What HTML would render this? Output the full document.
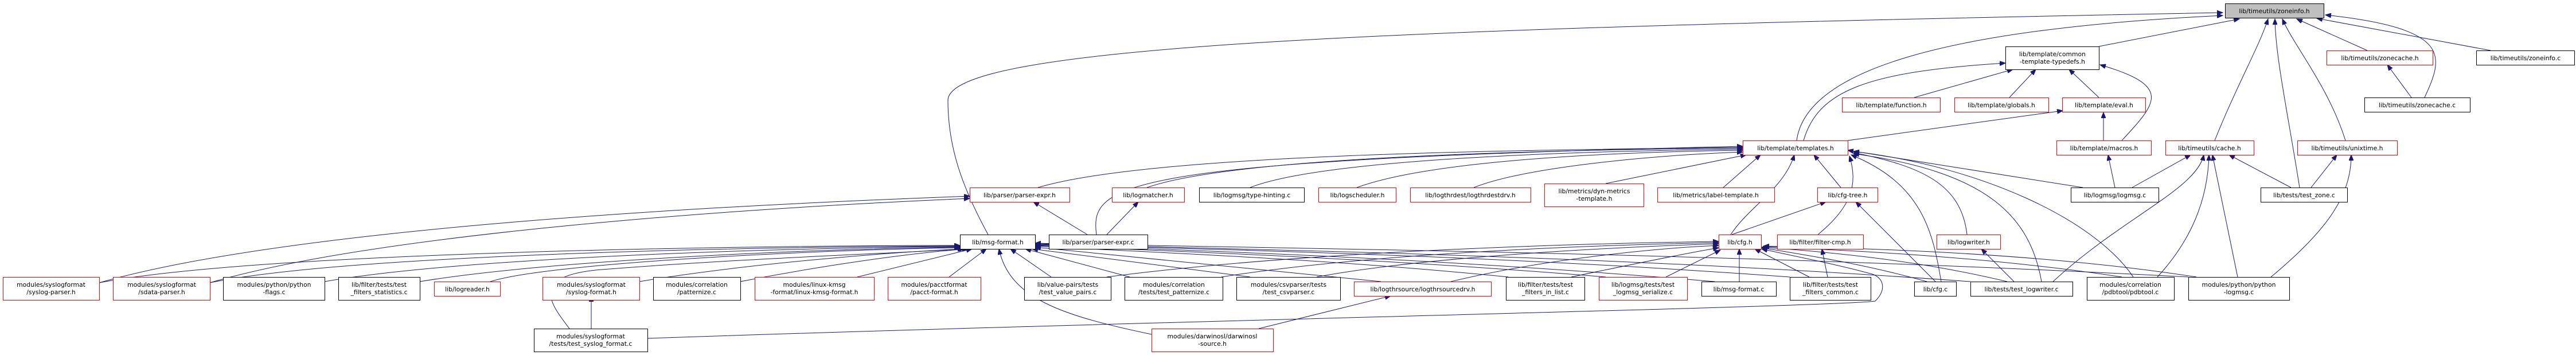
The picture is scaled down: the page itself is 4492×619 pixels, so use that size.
<!DOCTYPE html>
<html><head><meta charset="utf-8"><style>
html,body{margin:0;padding:0;background:#fff;}
svg{display:block;}
text{font-family:"DejaVu Sans","Liberation Sans",sans-serif;font-size:10.8px;fill:#000;}
</style></head><body>
<svg xmlns="http://www.w3.org/2000/svg" width="4492" height="619" viewBox="0 0 4492 619">
<defs>
<marker id="a" markerWidth="11" markerHeight="8" refX="10" refY="4" orient="auto" markerUnits="userSpaceOnUse">
<path d="M0,0 L10,4 L0,8 Z" fill="#191970" stroke="#191970"/>
</marker>
</defs>
<g fill="none" stroke="#191970" stroke-width="1" marker-end="url(#a)">
<!-- to zoneinfo.h -->
<path d="M1723,409 C1680,330 1653,260 1653,175 C1653,80 2400,50 3876,22"/>
<path d="M3133,245 C3150,120 3400,50 3876,27"/>
<path d="M3660,81 L3905,33"/>
<path d="M3862,245 C3900,150 3940,80 3955,33"/>
<path d="M4010,327 C3990,200 3968,100 3967,33"/>
<path d="M4090,245 C4060,150 4000,80 3980,33"/>
<path d="M4128,88 L4005,33"/>
<path d="M4343,88 L4040,32"/>
<path d="M4228,170 C4260,100 4280,50 4055,26"/>
<!-- to common-template-typedefs -->
<path d="M3145,245 C3170,160 3250,125 3497,110"/>
<path d="M3338,170 L3510,121"/>
<path d="M3504,170 L3550,121"/>
<path d="M3660,170 L3608,121"/>
<path d="M3700,245 C3760,180 3790,150 3662,113"/>
<!-- to eval.h -->
<path d="M3222,245 L3597,193"/>
<path d="M3668,245 L3668,196"/>
<!-- to templates.h -->
<path d="M1810,327 C2000,270 2600,262 3039,257"/>
<path d="M2000,327 C2150,275 2650,262 3039,258"/>
<path d="M2180,327 C2300,280 2700,264 3039,260"/>
<path d="M2366,327 C2480,285 2750,266 3039,262"/>
<path d="M2570,327 C2650,295 2850,272 3039,265"/>
<path d="M2800,320 L3045,270"/>
<path d="M3005,327 L3070,270"/>
<path d="M1912,409 C1900,320 1950,280 3039,255"/>
<path d="M3018,409 C3050,360 3110,330 3129,270"/>
<path d="M3210,327 L3163,270"/>
<path d="M3170,409 C3230,360 3240,320 3225,272"/>
<path d="M3385,491 C3370,400 3350,320 3228,270"/>
<path d="M3560,491 C3540,380 3470,300 3232,268"/>
<path d="M3430,409 C3420,320 3350,290 3232,266"/>
<path d="M3720,483 C3650,380 3450,290 3232,264"/>
<path d="M3632,327 L3222,262"/>
<!-- to cache.h / unixtime.h / macros / zonecache -->
<path d="M3718,327 L3820,270"/>
<path d="M3995,327 L3887,270"/>
<path d="M3580,491 C3700,380 3830,330 3843,270"/>
<path d="M3762,483 C3820,420 3850,350 3852,270"/>
<path d="M3902,483 L3858,270"/>
<path d="M4030,327 L4075,270"/>
<path d="M3960,483 C4060,400 4100,340 4100,270"/>
<path d="M3688,327 L3676,270"/>
<path d="M4205,170 L4163,113"/>
<!-- cfg-tree, filter-cmp, logwriter -->
<path d="M3020,409 L3184,352"/>
<path d="M3375,491 L3236,352"/>
<path d="M3187,483 L3177,434"/>
<path d="M3512,491 L3455,434"/>
<!-- to cfg.h -->
<path d="M3033,491 L3033,434"/>
<path d="M3155,483 L3060,434"/>
<path d="M3360,491 C3250,460 3150,445 3072,432"/>
<path d="M3500,491 C3350,455 3200,440 3072,431"/>
<path d="M3700,483 C3450,445 3200,436 3075,430"/>
<path d="M3830,483 C3550,440 3250,433 3075,429"/>
<path d="M2905,483 L3000,436"/>
<path d="M2740,483 C2850,460 2950,440 2997,432"/>
<path d="M2530,491 C2700,450 2900,432 2997,428"/>
<path d="M2296,483 C2500,445 2850,430 2997,425"/>
<path d="M2130,483 C2400,440 2800,427 2997,423"/>
<path d="M1930,483 C2300,435 2800,424 2997,421"/>
<path d="M1129,590 C2000,560 3200,535 3270,525 C3290,505 3285,485 3265,478 C3200,460 3120,445 3072,434"/>
<!-- to msg-format.h from left -->
<path d="M173,493 C450,440 1300,428 1674,428"/>
<path d="M366,493 C600,445 1300,430 1674,429"/>
<path d="M566,491 C800,450 1350,432 1674,430"/>
<path d="M732,491 C950,455 1400,434 1674,431"/>
<path d="M855,491 C950,460 1400,436 1674,432"/>
<path d="M1115,491 C1300,460 1550,440 1680,434"/>
<path d="M1291,491 C1450,460 1600,440 1688,434"/>
<path d="M1495,483 L1695,434"/>
<path d="M1655,483 L1720,434"/>
<path d="M993,573 C960,530 920,480 1050,470 C1300,450 1600,440 1682,434"/>
<!-- to msg-format.h from right -->
<path d="M1833,483 L1762,434"/>
<path d="M1970,483 L1788,434"/>
<path d="M2180,483 L1800,434"/>
<path d="M2408,491 L1805,431"/>
<path d="M2630,483 C2300,450 2000,440 1805,429"/>
<path d="M2800,483 C2400,450 2050,438 1805,428"/>
<path d="M2990,491 C2500,450 2100,437 1805,427"/>
<path d="M3121,483 C2600,445 2150,436 1805,426"/>
<path d="M3436,491 C2800,445 2200,436 1805,425"/>
<path d="M3816,483 C3000,440 2250,434 1805,424"/>
<path d="M2008,583 C1850,550 1760,520 1742,434"/>
<path d="M2195,573 L2425,516"/>
<!-- parser-expr / logmatcher / syslog-format -->
<path d="M173,493 C500,400 1200,360 1691,342"/>
<path d="M366,493 C650,410 1250,365 1691,346"/>
<path d="M1896,409 L1802,352"/>
<path d="M1930,409 L1985,352"/>
<path d="M1031,573 L1031,516"/>
</g>
<g stroke-width="1">
<rect x="3880.5" y="6.5" width="172" height="25" fill="#bfbfbf" stroke="#000"/>
<text x="3966" y="23" text-anchor="middle">lib/timeutils/zoneinfo.h</text>

<rect x="3497.5" y="81.5" width="163" height="40" fill="#fff" stroke="#000"/>
<text x="3579" y="98" text-anchor="middle">lib/template/common</text>
<text x="3579" y="111" text-anchor="middle">-template-typedefs.h</text>
<rect x="4057.5" y="88.5" width="185" height="25" fill="#fff" stroke="#f00"/>
<text x="4150" y="105" text-anchor="middle">lib/timeutils/zonecache.h</text>
<rect x="4318.5" y="88.5" width="171" height="25" fill="#fff" stroke="#000"/>
<text x="4404" y="105" text-anchor="middle">lib/timeutils/zoneinfo.c</text>

<rect x="3212.5" y="170.5" width="171" height="25" fill="#fff" stroke="#f00"/>
<text x="3298" y="187" text-anchor="middle">lib/template/function.h</text>
<rect x="3408.5" y="170.5" width="164" height="25" fill="#fff" stroke="#f00"/>
<text x="3490" y="187" text-anchor="middle">lib/template/globals.h</text>
<rect x="3596.5" y="170.5" width="145" height="25" fill="#fff" stroke="#f00"/>
<text x="3669" y="187" text-anchor="middle">lib/template/eval.h</text>
<rect x="4123.5" y="170.5" width="184" height="25" fill="#fff" stroke="#000"/>
<text x="4215" y="187" text-anchor="middle">lib/timeutils/zonecache.c</text>

<rect x="3039.5" y="245.5" width="183" height="25" fill="#fff" stroke="#f00"/>
<text x="3131" y="262" text-anchor="middle">lib/template/templates.h</text>
<rect x="3586.5" y="245.5" width="165" height="25" fill="#fff" stroke="#f00"/>
<text x="3669" y="262" text-anchor="middle">lib/template/macros.h</text>
<rect x="3776.5" y="245.5" width="154" height="25" fill="#fff" stroke="#f00"/>
<text x="3853" y="262" text-anchor="middle">lib/timeutils/cache.h</text>
<rect x="4006.5" y="245.5" width="174" height="25" fill="#fff" stroke="#f00"/>
<text x="4093" y="262" text-anchor="middle">lib/timeutils/unixtime.h</text>

<rect x="1691.5" y="327.5" width="174" height="25" fill="#fff" stroke="#f00"/>
<text x="1778" y="344" text-anchor="middle">lib/parser/parser-expr.h</text>
<rect x="1939.5" y="327.5" width="126" height="25" fill="#fff" stroke="#f00"/>
<text x="2002" y="344" text-anchor="middle">lib/logmatcher.h</text>
<rect x="2091.5" y="327.5" width="183" height="25" fill="#fff" stroke="#000"/>
<text x="2183" y="344" text-anchor="middle">lib/logmsg/type-hinting.c</text>
<rect x="2299.5" y="327.5" width="135" height="25" fill="#fff" stroke="#f00"/>
<text x="2367" y="344" text-anchor="middle">lib/logscheduler.h</text>
<rect x="2459.5" y="327.5" width="210" height="25" fill="#fff" stroke="#f00"/>
<text x="2564" y="344" text-anchor="middle">lib/logthrdest/logthrdestdrv.h</text>
<rect x="2693.5" y="320.5" width="173" height="40" fill="#fff" stroke="#f00"/>
<text x="2780" y="337" text-anchor="middle">lib/metrics/dyn-metrics</text>
<text x="2780" y="350" text-anchor="middle">-template.h</text>
<rect x="2890.5" y="327.5" width="204" height="25" fill="#fff" stroke="#f00"/>
<text x="2992" y="344" text-anchor="middle">lib/metrics/label-template.h</text>
<rect x="3169.5" y="327.5" width="105" height="25" fill="#fff" stroke="#f00"/>
<text x="3222" y="344" text-anchor="middle">lib/cfg-tree.h</text>
<rect x="3611.5" y="327.5" width="153" height="25" fill="#fff" stroke="#000"/>
<text x="3688" y="344" text-anchor="middle">lib/logmsg/logmsg.c</text>
<rect x="3942.5" y="327.5" width="151" height="25" fill="#fff" stroke="#000"/>
<text x="4018" y="344" text-anchor="middle">lib/tests/test_zone.c</text>

<rect x="1674.5" y="409.5" width="131" height="25" fill="#fff" stroke="#000"/>
<text x="1740" y="426" text-anchor="middle">lib/msg-format.h</text>
<rect x="1829.5" y="409.5" width="172" height="25" fill="#fff" stroke="#000"/>
<text x="1915" y="426" text-anchor="middle">lib/parser/parser-expr.c</text>
<rect x="2997.5" y="409.5" width="74" height="25" fill="#fff" stroke="#f00"/>
<text x="3034" y="426" text-anchor="middle">lib/cfg.h</text>
<rect x="3099.5" y="409.5" width="150" height="25" fill="#fff" stroke="#f00"/>
<text x="3174" y="426" text-anchor="middle">lib/filter/filter-cmp.h</text>
<rect x="3377.5" y="409.5" width="111" height="25" fill="#fff" stroke="#f00"/>
<text x="3433" y="426" text-anchor="middle">lib/logwriter.h</text>

<rect x="5.5" y="483.5" width="168" height="40" fill="#fff" stroke="#f00"/>
<text x="89" y="500" text-anchor="middle">modules/syslogformat</text>
<text x="89" y="513" text-anchor="middle">/syslog-parser.h</text>
<rect x="197.5" y="483.5" width="169" height="40" fill="#fff" stroke="#f00"/>
<text x="282" y="500" text-anchor="middle">modules/syslogformat</text>
<text x="282" y="513" text-anchor="middle">/sdata-parser.h</text>
<rect x="389.5" y="483.5" width="177" height="40" fill="#fff" stroke="#000"/>
<text x="478" y="500" text-anchor="middle">modules/python/python</text>
<text x="478" y="513" text-anchor="middle">-flags.c</text>
<rect x="590.5" y="483.5" width="142" height="40" fill="#fff" stroke="#000"/>
<text x="661" y="500" text-anchor="middle">lib/filter/tests/test</text>
<text x="661" y="513" text-anchor="middle">_filters_statistics.c</text>
<rect x="757.5" y="491.5" width="115" height="25" fill="#fff" stroke="#f00"/>
<text x="815" y="508" text-anchor="middle">lib/logreader.h</text>
<rect x="946.5" y="483.5" width="169" height="40" fill="#fff" stroke="#f00"/>
<text x="1031" y="500" text-anchor="middle">modules/syslogformat</text>
<text x="1031" y="513" text-anchor="middle">/syslog-format.h</text>
<rect x="1139.5" y="483.5" width="152" height="40" fill="#fff" stroke="#000"/>
<text x="1215" y="500" text-anchor="middle">modules/correlation</text>
<text x="1215" y="513" text-anchor="middle">/patternize.c</text>
<rect x="1316.5" y="483.5" width="208" height="40" fill="#fff" stroke="#f00"/>
<text x="1420" y="500" text-anchor="middle">modules/linux-kmsg</text>
<text x="1420" y="513" text-anchor="middle">-format/linux-kmsg-format.h</text>
<rect x="1548.5" y="483.5" width="162" height="40" fill="#fff" stroke="#f00"/>
<text x="1629" y="500" text-anchor="middle">modules/pacctformat</text>
<text x="1629" y="513" text-anchor="middle">/pacct-format.h</text>
<rect x="1786.5" y="483.5" width="151" height="40" fill="#fff" stroke="#000"/>
<text x="1862" y="500" text-anchor="middle">lib/value-pairs/tests</text>
<text x="1862" y="513" text-anchor="middle">/test_value_pairs.c</text>
<rect x="1961.5" y="483.5" width="171" height="40" fill="#fff" stroke="#000"/>
<text x="2047" y="500" text-anchor="middle">modules/correlation</text>
<text x="2047" y="513" text-anchor="middle">/tests/test_patternize.c</text>
<rect x="2156.5" y="483.5" width="181" height="40" fill="#fff" stroke="#000"/>
<text x="2247" y="500" text-anchor="middle">modules/csvparser/tests</text>
<text x="2247" y="513" text-anchor="middle">/test_csvparser.c</text>
<rect x="2361.5" y="491.5" width="239" height="25" fill="#fff" stroke="#f00"/>
<text x="2481" y="508" text-anchor="middle">lib/logthrsource/logthrsourcedrv.h</text>
<rect x="2626.5" y="483.5" width="137" height="40" fill="#fff" stroke="#000"/>
<text x="2695" y="500" text-anchor="middle">lib/filter/tests/test</text>
<text x="2695" y="513" text-anchor="middle">_filters_in_list.c</text>
<rect x="2788.5" y="483.5" width="154" height="40" fill="#fff" stroke="#f00"/>
<text x="2865" y="500" text-anchor="middle">lib/logmsg/tests/test</text>
<text x="2865" y="513" text-anchor="middle">_logmsg_serialize.c</text>
<rect x="2967.5" y="491.5" width="130" height="25" fill="#fff" stroke="#000"/>
<text x="3032" y="508" text-anchor="middle">lib/msg-format.c</text>
<rect x="3121.5" y="483.5" width="141" height="40" fill="#fff" stroke="#000"/>
<text x="3192" y="500" text-anchor="middle">lib/filter/tests/test</text>
<text x="3192" y="513" text-anchor="middle">_filters_common.c</text>
<rect x="3338.5" y="491.5" width="73" height="25" fill="#fff" stroke="#000"/>
<text x="3375" y="508" text-anchor="middle">lib/cfg.c</text>
<rect x="3436.5" y="491.5" width="178" height="25" fill="#fff" stroke="#000"/>
<text x="3525" y="508" text-anchor="middle">lib/tests/test_logwriter.c</text>
<rect x="3639.5" y="483.5" width="152" height="40" fill="#fff" stroke="#000"/>
<text x="3715" y="500" text-anchor="middle">modules/correlation</text>
<text x="3715" y="513" text-anchor="middle">/pdbtool/pdbtool.c</text>
<rect x="3816.5" y="483.5" width="176" height="40" fill="#fff" stroke="#000"/>
<text x="3904" y="500" text-anchor="middle">modules/python/python</text>
<text x="3904" y="513" text-anchor="middle">-logmsg.c</text>

<rect x="931.5" y="573.5" width="198" height="40" fill="#fff" stroke="#000"/>
<text x="1030" y="590" text-anchor="middle">modules/syslogformat</text>
<text x="1030" y="603" text-anchor="middle">/tests/test_syslog_format.c</text>
<rect x="2008.5" y="573.5" width="212" height="40" fill="#fff" stroke="#f00"/>
<text x="2114" y="590" text-anchor="middle">modules/darwinosl/darwinosl</text>
<text x="2114" y="603" text-anchor="middle">-source.h</text>
</g>
</svg>
</body></html>
